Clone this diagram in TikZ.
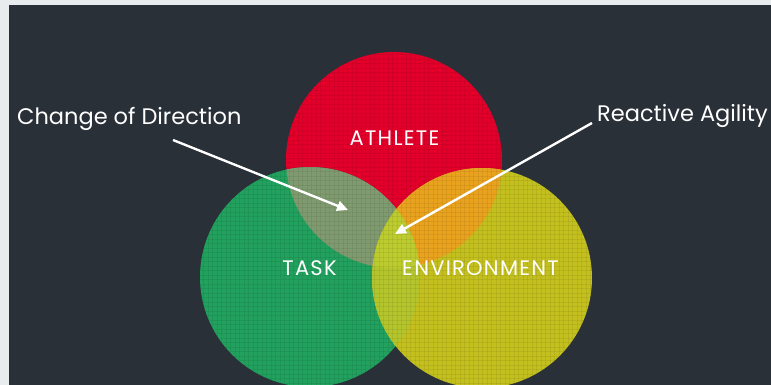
\documentclass[tikz,border=0pt]{standalone}
\usepackage{fontspec}
\setmainfont{Poppins}
\usetikzlibrary{arrows.meta}

\definecolor{pagebg}{HTML}{E9ECEF}
\definecolor{slate}{HTML}{2A3038}
\definecolor{athletered}{HTML}{E2002A}
\definecolor{taskgreen}{HTML}{21A05E}
\definecolor{envyellow}{HTML}{C2BF1E}
\definecolor{redgreen}{HTML}{7F9A6E}
\definecolor{redyellow}{HTML}{E8A21E}
\definecolor{greenyellow}{HTML}{B3C42C}
\definecolor{allthree}{HTML}{BCCB2E}

\tikzset{
  venntext/.style={text=white, inner sep=0pt, anchor=base, font=\fontsize{21}{21}\selectfont\addfontfeature{LetterSpace=6}},
  calltext/.style={text=white, inner sep=0pt, anchor=base west, font=\fontsize{22.5}{22.5}\selectfont},
  callarrow/.style={draw=white, line width=2.4pt, -{Triangle[length=11pt,width=10pt]}}
}

\begin{document}
\begin{tikzpicture}[x=1pt,y=-1pt]
	\useasboundingbox (0,0) rectangle (771,385);
	\clip (0,0) rectangle (771,385);
	\fill [pagebg] (0,0) rectangle (771,385);
	\fill [slate] (9,5) rectangle (771,385);
	% the three circles
	\fill [athletered] (394,160) circle (108);
	\fill [taskgreen] (310,277) circle (110);
	\fill [envyellow] (482,278) circle (110);
	% overlaps
	\begin{scope}
		\clip (394,160) circle (108);
		\fill [redgreen] (310,277) circle (110);
		\fill [redyellow] (482,278) circle (110);
	\end{scope}
	\begin{scope}
		\clip (310,277) circle (110);
		\fill [greenyellow] (482,278) circle (110);
		\clip (394,160) circle (108);
		\fill [allthree] (482,278) circle (110);
	\end{scope}
	% faint grid
	\begin{scope}
		\clip (394,160) circle (108) (310,277) circle (110) (482,278) circle (110);
		\foreach \gx in {0,...,91} \draw [black, opacity=0.06, line width=0.5pt] (190+4.5*\gx,50) -- (190+4.5*\gx,390);
		\foreach \gy in {0,...,76} \draw [black, opacity=0.06, line width=0.5pt] (190,50+4.5*\gy) -- (600,50+4.5*\gy);
	\end{scope}
	% labels
	\node [venntext] (athlete) at (394.5,146) {ATHLETE};
	\node [venntext] (task) at (309.5,275) {TASK};
	\node [venntext] (environment) at (480.5,275) {ENVIRONMENT};
	\node [calltext] (cod) at (17,125) {Change of Direction};
	\node [calltext] (ra) at (597,122) {Reactive Agility};
	% arrows
	\coordinate (cod tail) at (173,140);
	\coordinate (cod tip) at (348,210);
	\coordinate (ra tail) at (592,123);
	\coordinate (ra tip) at (395,234);
	\draw [callarrow] (cod tail) -- (cod tip);
	\draw [callarrow] (ra tail) -- (ra tip);
\end{tikzpicture}
\end{document}
